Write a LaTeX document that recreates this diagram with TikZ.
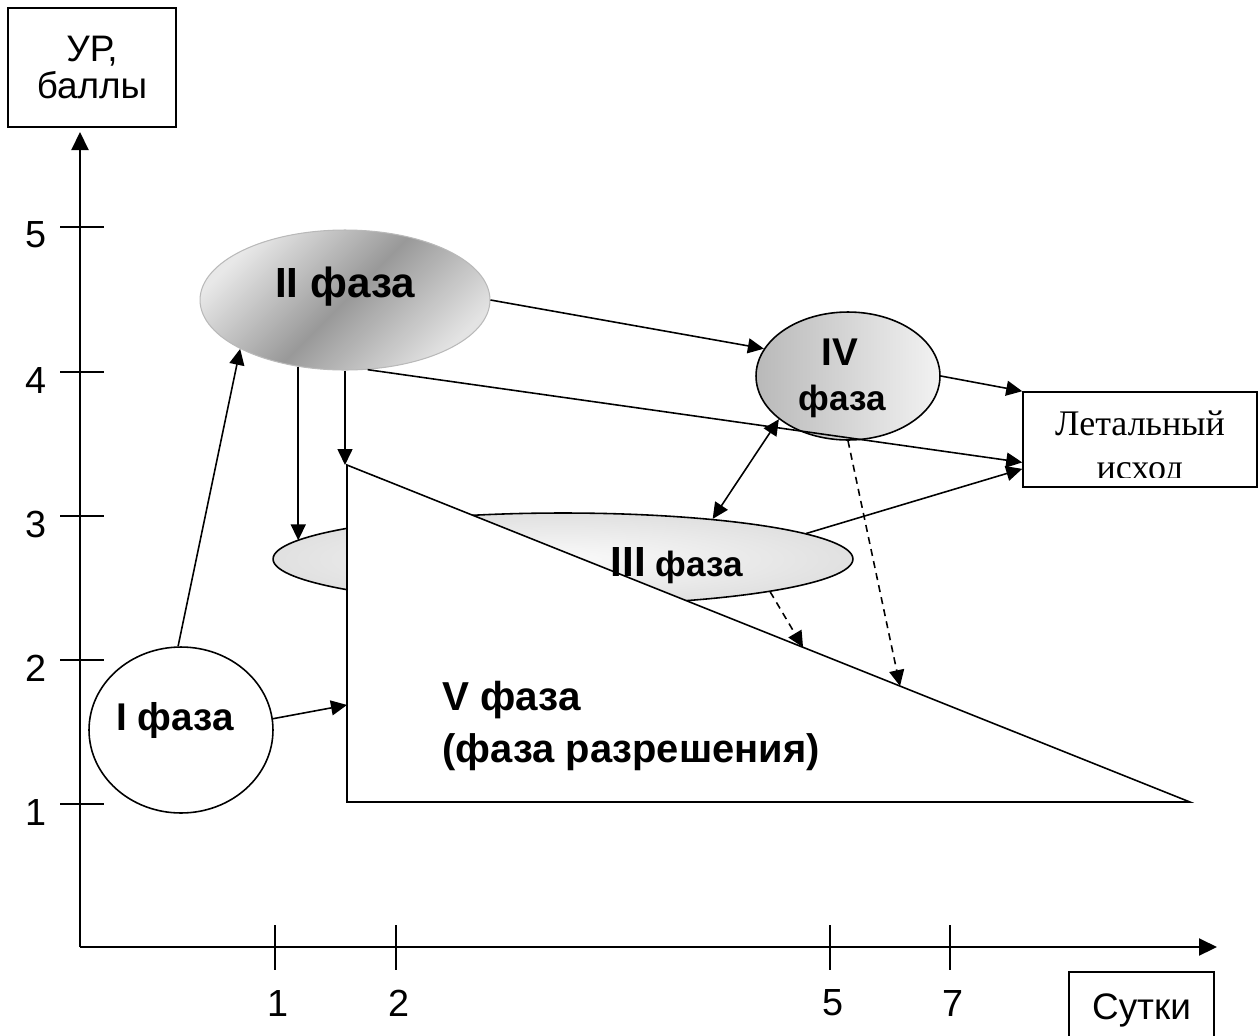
\documentclass[tikz,border=0pt]{standalone}
\usepackage{fontspec}
\setmainfont{Liberation Sans}
\newfontfamily\serifcyr{Liberation Serif}
\usetikzlibrary{shapes.geometric,arrows.meta,calc}
\tikzset{
    >={Triangle[length=0.32cm, width=0.3cm]},
    phase-ellipse/.style = {draw, ellipse, inner sep=0pt, line width=0.9pt},
    phase-text/.style = {font=\bfseries\fontsize{22}{26}\selectfont, inner sep=0pt},
    label-box/.style = {draw, rectangle, line width=0.9pt, inner sep=0pt, align=center, font=\fontsize{21}{21}\selectfont},
    lethal-text/.style = {inner sep=0pt, align=center, font=\serifcyr\fontsize{20.5}{25}\selectfont},
    link/.style = {line width=0.9pt, ->},
    dashed-link/.style = {link, dash pattern=on 4pt off 3pt},
    axis/.style = {line width=1.2pt, -{Triangle[length=0.36cm, width=0.34cm]}},
    tick-label/.style = {font=\fontsize{21.5}{21.5}\selectfont, inner sep=0pt},
}

\begin{document}
\begin{tikzpicture}[x=0.02cm, y=-0.02cm]
\useasboundingbox (0,0) rectangle (1258,1035);

\coordinate (origin) at (80,947);
\coordinate (y-end) at (80,132);
\coordinate (x-end) at (1217,947);
\draw[axis] (origin) -- (y-end);
\draw[axis] (origin) -- (x-end);
\foreach \ypos/\val in {227/5, 372/4, 516/3, 660/2, 804/1} {
    \draw[line width=0.6pt] (60,\ypos) -- (104,\ypos);
    \node[tick-label] (y-\val) at (36,\ypos+8) {\val};
}
\foreach \xpos/\val in {275/1, 396/2, 830/5, 950/7} {
    \draw[line width=0.6pt] (\xpos,925) -- (\xpos,970);
    \node[tick-label] (x-\val) at (\xpos+3,1003) {\val};
}
\node[label-box, minimum width=3.36cm, minimum height=2.38cm] (score) at (92,67.5) {УР,\\баллы};
\node[label-box, minimum width=2.9cm, minimum height=1.52cm] (days) at (1141.5,1010) {Сутки};

\node[label-box, minimum width=4.68cm, minimum height=1.9cm] (lethal) at (1140,439.5) {};
\begin{scope}
    \clip (lethal.north west) rectangle (1258,477);
    \node[lethal-text] (lethal-text) at (1140,448.5) {Летальный\\исход};
\end{scope}

\node[phase-ellipse, fill=white, minimum width=3.68cm, minimum height=3.32cm] (ph1) at (181,730) {};
\node[phase-ellipse, draw=gray!55, line width=0.6pt, top color=gray!18, bottom color=gray!22, middle color=gray!80, shading angle=45,
    minimum width=5.8cm, minimum height=2.8cm] (ph2) at (345,300) {};
\node[phase-ellipse, left color=gray!55, right color=gray!10, minimum width=3.68cm, minimum height=2.56cm] (ph4) at (848,376) {};
\node[phase-ellipse, inner color=gray!4, outer color=gray!24, minimum width=11.6cm, minimum height=1.84cm] (ph3) at (563,559) {};

\coordinate (v-top) at (347,465);
\coordinate (v-corner) at (347,802);
\coordinate (v-tip) at (1190,802);
\draw[line width=0.9pt, fill=white] (v-top) -- (v-corner) -- (v-tip) -- cycle;
\coordinate (v-side) at ($(v-top)!0.712!(v-corner)$);
\coordinate (v-hyp-near) at ($(v-top)!0.541!(v-tip)$);
\coordinate (v-hyp-far) at ($(v-top)!0.656!(v-tip)$);

\node[phase-text, anchor=base] (ph1-text) at (175,730) {I фаза};
\node[phase-text, anchor=base, font=\bfseries\fontsize{24}{28}\selectfont] (ph2-text) at (345,297) {II фаза};
\node[phase-text, anchor=base] (ph4-num) at (840,365) {IV};
\node[phase-text, anchor=base, font=\bfseries\fontsize{20}{24}\selectfont] (ph4-name) at (842,410) {фаза};
\node[phase-text, anchor=base, font=\bfseries\fontsize{20}{24}\selectfont] (ph3-text) at (677,576) {{\fontsize{24}{28}\selectfont III} фаза};
\node[phase-text, anchor=base west, font=\bfseries\fontsize{23}{27}\selectfont] (ph5-name) at (442,710) {V фаза};
\node[phase-text, anchor=base west, font=\bfseries\fontsize{22.7}{27}\selectfont] (ph5-note) at (442,762) {(фаза разрешения)};

\draw[link] (ph1.92) -- (ph2.205);
\draw[link] (ph1.7) -- (v-side);
\draw[link] (ph2.east) -- (ph4.162);
\draw[link] (ph2.288) -- (lethal.191);
\draw[link] (ph2.235) -- (ph2.235 |- ph3.176);
\draw[link] (ph2.south) -- (ph2.south |- v-top);
\draw[link] (ph4.east) -- (lethal.north west);
\draw[link, <->] (ph4.212) -- (ph3.15);
\draw[link] (ph3.6) -- (lethal.194);
\draw[dashed-link] (ph4.south) -- (v-hyp-far);
\draw[dashed-link] (ph3.351) -- (v-hyp-near);
\end{tikzpicture}
\end{document}
